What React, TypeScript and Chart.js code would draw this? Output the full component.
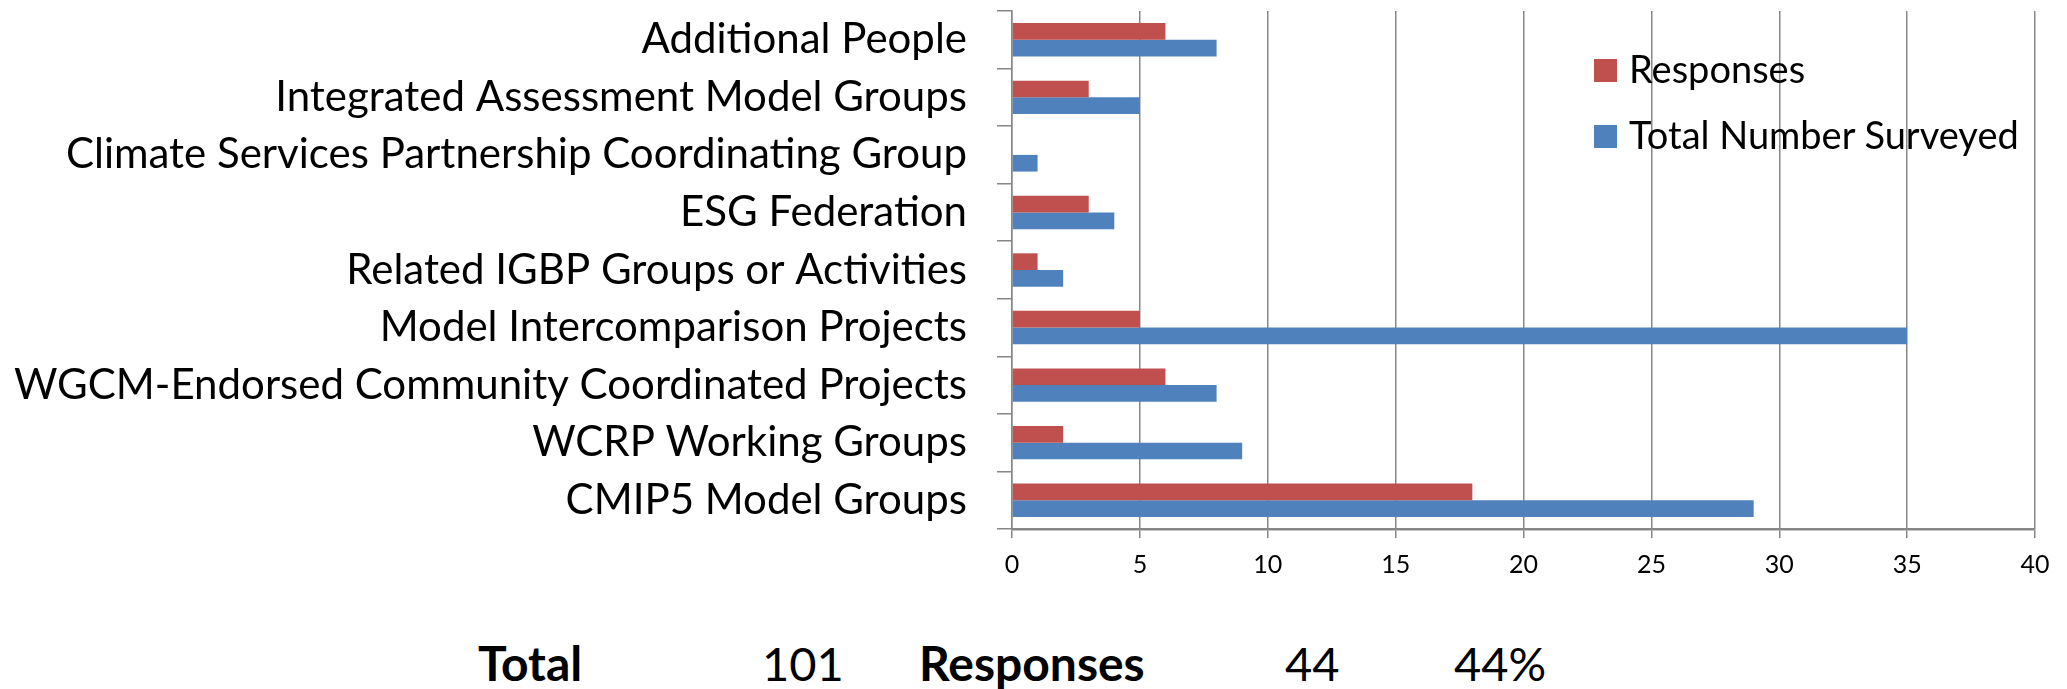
import React, { useEffect, useRef } from "react";
import { Chart, registerables } from "chart.js";

Chart.register(...registerables);

// ---- data ----
const categories = [
  "Additional People",
  "Integrated Assessment Model Groups",
  "Climate Services Partnership Coordinating Group",
  "ESG Federation",
  "Related IGBP Groups or Activities",
  "Model Intercomparison Projects",
  "WGCM-Endorsed Community Coordinated Projects",
  "WCRP Working Groups",
  "CMIP5 Model Groups",
];
const responses = [6, 3, 0, 3, 1, 5, 6, 2, 18];
const totalSurveyed = [8, 5, 1, 4, 2, 35, 8, 9, 29];
const seriesNames = ["Responses", "Total Number Surveyed"];
const seriesColors = ["#C0504D", "#4F81BD"];
const xMin = 0;
const xMax = 40;
const xStep = 5;
const summaryItems = [
  { text: "Total", bold: true },
  { text: "101", bold: false },
  { text: "Responses", bold: true },
  { text: "44", bold: false },
  { text: "44%", bold: false },
];

// ---- layout ----
const W = 2067;
const CANVAS_H = 600;
const PLOT_LEFT = 1012;
const PLOT_RIGHT = 2035;
const PLOT_TOP = 11;
const PLOT_BOTTOM = 529;
const FONT = "Lato, 'Open Sans', sans-serif";
const GRID = "#878787";
const summaryLefts = [478, 762, 919, 1285, 1454];

export default function App() {
  const ref = useRef<HTMLCanvasElement | null>(null);

  useEffect(() => {
    if (!ref.current) return;
    const chart = new Chart(ref.current, {
      type: "bar",
      data: {
        labels: categories,
        datasets: [
          {
            label: seriesNames[0],
            data: responses,
            backgroundColor: seriesColors[0],
            borderWidth: 0,
            categoryPercentage: 0.58,
            barPercentage: 1.0,
          },
          {
            label: seriesNames[1],
            data: totalSurveyed,
            backgroundColor: seriesColors[1],
            borderWidth: 0,
            categoryPercentage: 0.58,
            barPercentage: 1.0,
          },
        ],
      },
      options: {
        indexAxis: "y",
        animation: false,
        responsive: false,
        maintainAspectRatio: false,
        devicePixelRatio: 1,
        layout: { padding: { top: PLOT_TOP, right: W - PLOT_RIGHT, left: 0, bottom: 0 } },
        plugins: {
          legend: { display: false },
          tooltip: { enabled: false },
        },
        scales: {
          x: {
            type: "linear",
            min: xMin,
            max: xMax,
            ticks: {
              stepSize: xStep,
              color: "#000",
              font: { family: FONT, size: 25 },
              padding: 12,
            },
            grid: {
              color: GRID,
              lineWidth: 1.5,
              tickLength: 9,
              drawTicks: true,
            },
            border: { display: true, color: GRID, width: 2.5 },
            afterFit: (s: any) => {
              s.height = CANVAS_H - PLOT_BOTTOM;
            },
          },
          y: {
            type: "category",
            offset: true,
            ticks: {
              color: "#000",
              font: { family: FONT, size: 42 },
              padding: 30,
              autoSkip: false,
            },
            grid: {
              display: true,
              drawOnChartArea: false,
              offset: true,
              color: GRID,
              lineWidth: 1.5,
              tickLength: 15,
            },
            border: { display: true, color: GRID, width: 1.5 },
            afterFit: (s: any) => {
              s.width = PLOT_LEFT;
              s.paddingTop = 0;
              s.paddingBottom = 0;
            },
          },
        },
      },
    });
    return () => chart.destroy();
  }, []);

  return (
    <div style={{ position: "absolute", left: 0, top: 0, width: W, height: 689, background: "#fff", fontFamily: FONT }}>
      <canvas ref={ref} width={W} height={CANVAS_H} style={{ position: "absolute", left: 0, top: 0, width: W, height: CANVAS_H }} />
      {seriesNames.map((name, i) => (
        <div key={name} style={{ position: "absolute", left: 1594, top: 49.5 + i * 66, height: 42, display: "flex", alignItems: "center", whiteSpace: "nowrap" }}>
          <span style={{ display: "inline-block", width: 23, height: 23, background: seriesColors[i], marginRight: 12 }} />
          <span style={{ fontSize: 38, color: "#000", lineHeight: "42px", position: "relative", top: -3 }}>{name}</span>
        </div>
      ))}
      {summaryItems.map((it, i) => (
        <div key={i} style={{ position: "absolute", left: summaryLefts[i], top: 635, fontSize: it.bold ? 48 : 47, lineHeight: "56px", fontWeight: it.bold ? 700 : 400, color: "#000", whiteSpace: "nowrap" }}>
          {it.text}
        </div>
      ))}
    </div>
  );
}
